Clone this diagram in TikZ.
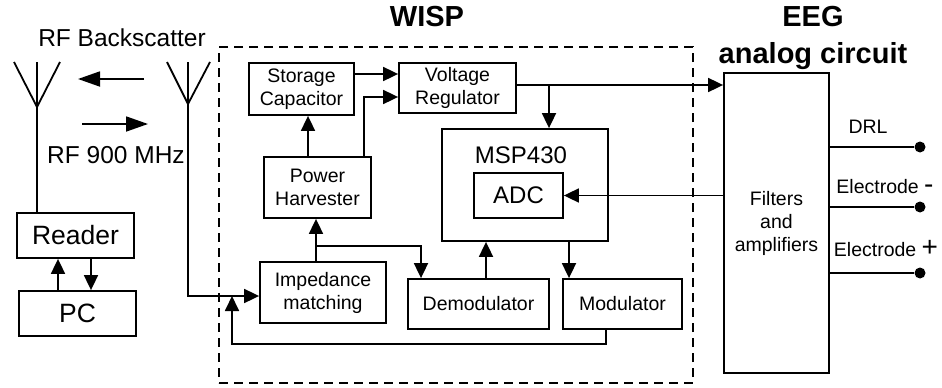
\documentclass[tikz,border=0pt]{standalone}
\usepackage{fontspec}
\setmainfont{Liberation Sans}
\usetikzlibrary{arrows.meta,calc}
\begin{document}
\begin{tikzpicture}[x=1pt,y=-1pt, line width=1.8pt,
  box/.style={draw, rectangle, inner sep=0pt, align=center, font=\fontsize{19.5}{23}\selectfont},
  arr/.style={-{Triangle[length=15pt,width=14pt]}},
  bigarr/.style={-{Triangle[length=22pt,width=15pt]}},
  lbl/.style={inner sep=0pt, anchor=base},
  dot/.style={circle, fill, inner sep=0pt, minimum size=11pt},
  wispbox/.style={draw, dash pattern=on 9pt off 6pt, inner sep=0pt}]
\useasboundingbox (0,0) rectangle (942,388);

% titles and labels
\node[lbl, font=\fontsize{29}{32}\selectfont\bfseries] (twisp) at (427,27) {WISP};
\node[lbl, font=\fontsize{29}{32}\selectfont\bfseries] (teeg) at (813,27) {EEG};
\node[lbl, font=\fontsize{29}{32}\selectfont\bfseries] (tanalog) at (813,63) {analog circuit};
\node[lbl, font=\fontsize{24.5}{28}\selectfont] (trfb) at (122,46.5) {RF Backscatter};
\node[lbl, font=\fontsize{24.5}{28}\selectfont] (trf9) at (116,163) {RF 900 MHz};

% WISP dashed frame
\node[wispbox, minimum width=474pt, minimum height=336pt] (wisp) at (456,215) {};

% left side
\node[box, minimum width=117pt, minimum height=45pt, font=\fontsize{26.5}{30}\selectfont] (reader) at (75.5,235.5) {Reader};
\node[box, minimum width=117pt, minimum height=45pt, font=\fontsize{26.5}{30}\selectfont] (pc) at (77.5,313.5) {PC};

% WISP blocks
\node[box, minimum width=105pt, minimum height=52pt] (sc) at (301.5,89) {Storage\\Capacitor};
\node[box, minimum width=117pt, minimum height=50pt] (vr) at (457.5,88) {Voltage\\Regulator};
\node[box, minimum width=107pt, minimum height=61pt] (ph) at (317.5,187.5) {Power\\Harvester};
\node[box, minimum width=166pt, minimum height=112pt] (msp) at (525,185) {};
\node[lbl, font=\fontsize{24}{28}\selectfont] (msplbl) at (521,163) {MSP430};
\node[box, minimum width=89pt, minimum height=45pt, font=\fontsize{24}{28}\selectfont] (adc) at (518.5,195.5) {ADC};
\node[box, minimum width=126pt, minimum height=61pt] (im) at (323,292.5) {Impedance\\matching};
\node[box, minimum width=141pt, minimum height=50pt] (demod) at (478.5,304) {Demodulator};
\node[box, minimum width=119pt, minimum height=50pt] (mod) at (622.5,304) {Modulator};

% EEG block
\node[box, minimum width=105pt, minimum height=300pt] (filt) at (776.5,223) {Filters\\and\\amplifiers};

% antennas
\coordinate (a1t) at (37,62);
\coordinate (a1j) at (37,107);
\coordinate (a1l) at (14,62);
\coordinate (a1r) at (60,62);
\draw (a1l) -- (a1j) -- (a1r);
\draw (a1t) -- (reader.north -| a1t);
\coordinate (a2t) at (188,62);
\coordinate (a2j) at (188,104);
\coordinate (a2l) at (167,62);
\coordinate (a2r) at (210,62);
\coordinate (a2b) at (188,296);
\draw (a2l) -- (a2j) -- (a2r);
\draw[arr] (a2t) -- (a2b) -- (a2b -| im.west);

% RF arrows
\coordinate (rfa1) at (144,79);
\coordinate (rfa2) at (78,79);
\coordinate (rfb1) at (82,124);
\coordinate (rfb2) at (148,124);
\draw[bigarr] (rfa1) -- (rfa2);
\draw[bigarr] (rfb1) -- (rfb2);

% reader <-> pc
\coordinate (rp1) at (58,0);
\coordinate (rp2) at (91,0);
\draw[arr] (pc.north -| rp1) -- (reader.south -| rp1);
\draw[arr] (reader.south -| rp2) -- (pc.north -| rp2);

% WISP internal connections
\coordinate (y74) at (0,74);
\draw[arr] (sc.east |- y74) -- (vr.west |- y74);
\coordinate (phv) at (364,97);
\draw[arr] (ph.north -| phv) -- (phv) -- (vr.west |- phv);
\coordinate (x308) at (308,0);
\draw[arr] (ph.north -| x308) -- (sc.south -| x308);
\coordinate (y85) at (0,85);
\draw[arr] (vr.east |- y85) -- (filt.west |- y85);
\coordinate (br1) at (549,85);
\draw[arr] (br1) -- (msp.north -| br1);
\draw[arr] (filt.west |- adc.east) -- (adc.east);
\coordinate (x316) at (316,246);
\draw[arr] (im.north -| x316) -- (ph.south -| x316);
\coordinate (x421) at (421,246);
\draw[arr] (x316) -- (x421) -- (demod.north -| x421);
\coordinate (x486) at (486,0);
\draw[arr] (demod.north -| x486) -- (msp.south -| x486);
\coordinate (x569) at (569,0);
\draw[arr] (msp.south -| x569) -- (mod.north -| x569);
\coordinate (fb1) at (606,344);
\coordinate (fb2) at (232,344);
\draw[arr] (mod.south -| fb1) -- (fb1) -- (fb2) -- (fb2 |- a2b);

% electrodes
\node[dot] (drl) at (920,147) {};
\node[dot] (elm) at (920,207) {};
\node[dot] (elp) at (920,273) {};
\draw (filt.east |- drl) -- (drl);
\draw (filt.east |- elm) -- (elm);
\draw (filt.east |- elp) -- (elp);
\node[lbl, font=\fontsize{19.5}{23}\selectfont] (tdrl) at (868,133) {DRL};
\node[lbl, font=\fontsize{19.5}{23}\selectfont] (telm) at (885,193) {Electrode {\fontsize{28}{28}\selectfont -}};
\node[lbl, font=\fontsize{19.5}{23}\selectfont] (telp) at (886,256) {Electrode {\fontsize{28}{28}\selectfont +}};
\end{tikzpicture}
\end{document}
